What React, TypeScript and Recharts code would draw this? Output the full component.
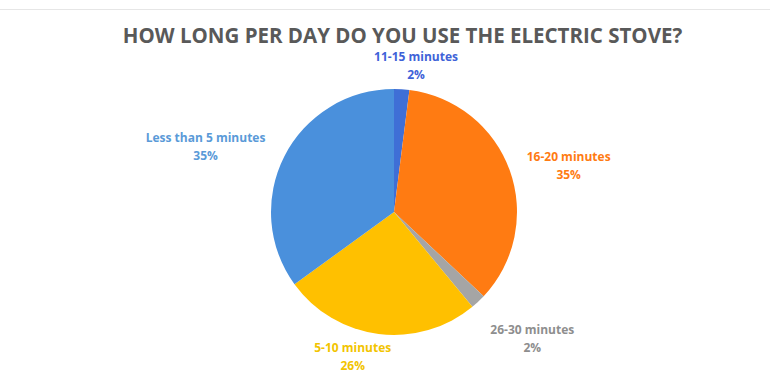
import React from "react";
import { PieChart, Pie, Cell } from "recharts";

const categories = ["11-15 minutes", "16-20 minutes", "26-30 minutes", "5-10 minutes", "Less than 5 minutes"];
const shares = [2, 35, 2, 26, 35];
const sliceColors = ["#3F6FD6", "#FF7B12", "#A5A5A5", "#FFC000", "#4A90DC"];
const labelColors = ["#3E62D8", "#FF7B12", "#8E8E8E", "#F2C400", "#5A9AD8"];
// layout only: label distance from pie centre, box widths, small nudges
const labelGap = [129, 140, 155, 127, 149];
const labelWidths = [94, 87, 94, 85, 125];
const nudgeX = [11, 2, 0, -20, 0];
const nudgeY = [0, 7, 0, 0, 10];

const data = categories.map((name, i) => ({ name, value: shares[i] }));

const RAD = Math.PI / 180;

const renderLabel = (props: any) => {
  const { cx, cy, midAngle, index, value, name } = props;
  const ux = Math.cos(-midAngle * RAD);
  const uy = Math.sin(-midAngle * RAD);
  const R = labelGap[index];
  const w = labelWidths[index];
  const h = 36;
  const x = cx + ux * R + (ux * w) / 2 + nudgeX[index];
  const y = cy + uy * R + (uy * h) / 2 + nudgeY[index];
  return (
    <text
      x={x}
      y={y}
      textAnchor="middle"
      fill={labelColors[index]}
      fontFamily="'Open Sans', sans-serif"
      fontWeight={700}
      fontSize={12}
    >
      <tspan x={x} dy={-4}>{name}</tspan>
      <tspan x={x} dy={18}>{`${value}%`}</tspan>
    </text>
  );
};

export default function App() {
  return (
    <div style={{ position: "absolute", left: 0, top: 0, width: 770, height: 376, background: "#fff", overflow: "hidden" }}>
      <div style={{ position: "absolute", left: 0, top: 9, width: 770, height: 1, background: "#e6e6e6" }} />
      <div
        style={{
          position: "absolute",
          left: 0,
          width: 805,
          top: 21,
          textAlign: "center",
          fontFamily: "'Open Sans', sans-serif",
          fontWeight: 700,
          fontSize: 20.5,
          color: "#595959",
          whiteSpace: "nowrap",
        }}
      >
        HOW LONG PER DAY DO YOU USE THE ELECTRIC STOVE?
      </div>
      <div style={{ position: "absolute", left: 0, top: 0 }}>
        <PieChart width={770} height={376} margin={{ top: 0, right: 0, bottom: 0, left: 0 }}>
          <Pie
            data={data}
            dataKey="value"
            nameKey="name"
            cx={394}
            cy={212}
            outerRadius={123}
            startAngle={90}
            endAngle={-270}
            stroke="none"
            label={renderLabel}
            labelLine={false}
            isAnimationActive={false}
          >
            {data.map((d, i) => (
              <Cell key={d.name} fill={sliceColors[i]} />
            ))}
          </Pie>
        </PieChart>
      </div>
    </div>
  );
}
